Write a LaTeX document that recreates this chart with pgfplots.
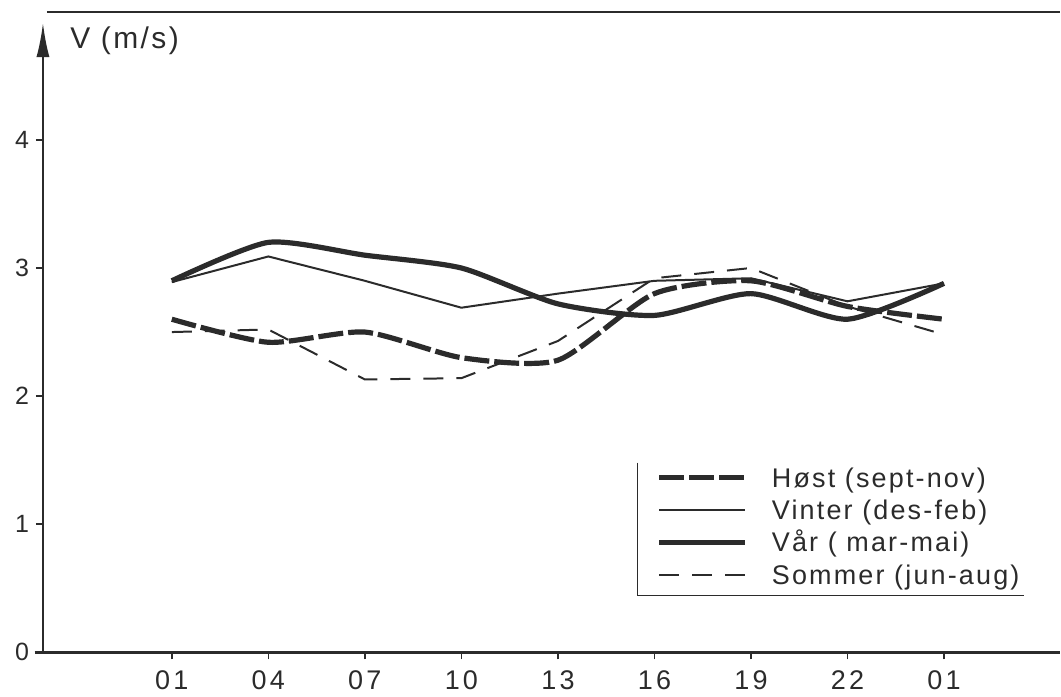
\documentclass[border=0pt]{standalone}
\usepackage{fontspec}
\setmainfont{Liberation Sans}
\newfontfamily\lgfont[LetterSpace=8]{Liberation Sans}
\newfontfamily\tkfont[LetterSpace=12]{Liberation Sans}
\usepackage{pgfplots}
\pgfplotsset{compat=1.18}
\usetikzlibrary{arrows.meta}
\definecolor{ink}{HTML}{2B2B2B}

\begin{document}
\begin{tikzpicture}
\begin{axis}[
  scale only axis,
  width=509pt, height=315pt,
  xmin=-1.335, xmax=9.2,
  ymin=0, ymax=4.912,
  axis x line=bottom, axis y line=left,
  x axis line style={-, ink, line width=1.2pt},
  y axis line style={-{Latex[length=17pt,width=6.5pt]}, ink, line width=1pt},
  xtick={0,...,8},
  xticklabels={01,04,07,10,13,16,19,22,01},
  ytick={0,1,2,3,4},
  tick align=outside,
  major tick length=3.5pt,
  tick style={ink, line width=0.8pt},
  xticklabel style={font=\tkfont\fontsize{13.5}{13.5}\selectfont, text=ink, yshift=-2pt},
  yticklabel style={font=\fontsize{12.5}{12.5}\selectfont, text=ink},
  /pgf/number format/assume math mode=true,
  clip=false,
  legend style={at={(axis cs:5.021,1.443)}, anchor=north west, draw=none, fill=none,
    inner sep=0pt, row sep=6.6pt, column sep=12pt,
    font=\lgfont\fontsize{13.5}{13.5}\selectfont, text=ink,
    nodes={inner sep=0pt, text height=9.6pt, text depth=0pt}},
  legend cell align=left,
  legend image code/.code={\draw[#1] (0pt,0pt) -- (43pt,0pt);},
]
% Høst
\addplot[ink, line width=2.6pt, dash pattern=on 12.5pt off 2.5pt, smooth, tension=0.4]
  coordinates {(0,2.60) (1,2.42) (2,2.50) (3,2.30) (4,2.28) (5,2.80) (6,2.90) (7,2.70) (8,2.60)};
\addlegendentry{Høst (sept-nov)}
% Vinter
\addplot[ink, line width=1pt]
  coordinates {(0,2.89) (1,3.09) (2,2.90) (3,2.69) (4,2.80) (5,2.90) (6,2.92) (7,2.74) (8,2.88)};
\addlegendentry{Vinter (des-feb)}
% Vår
\addplot[ink, line width=2.6pt, smooth, tension=0.4]
  coordinates {(0,2.90) (1,3.20) (2,3.10) (3,3.00) (4,2.72) (5,2.63) (6,2.80) (7,2.60) (8,2.88)};
\addlegendentry{Vår ( mar-mai)}
% Sommer
\addplot[ink, line width=1pt, dash pattern=on 10pt off 6.5pt]
  coordinates {(0,2.50) (1,2.52) (2,2.13) (3,2.14) (4,2.43) (5,2.92) (6,3.00) (7,2.70) (8,2.48)};
\addlegendentry{Sommer (jun-aug)}

\draw[ink, line width=1.1pt] (axis cs:-1.294,4.998) -- (axis cs:9.2,4.998);
\node[anchor=base west, font=\lgfont\fontsize{15}{15}\selectfont, text=ink, inner sep=0pt]
  at (axis cs:-1.056,4.717) {V (m/s)};
\draw[ink, line width=0.8pt] (axis cs:4.824,1.481) -- (axis cs:4.824,0.444) -- (axis cs:8.830,0.444);
\draw[ink, line width=1.2pt] (axis cs:-1.42,0) -- (axis cs:-1.335,0);
\path (axis cs:-1.78,-0.335) (axis cs:9.203,5.092);
\end{axis}
\end{tikzpicture}
\end{document}
